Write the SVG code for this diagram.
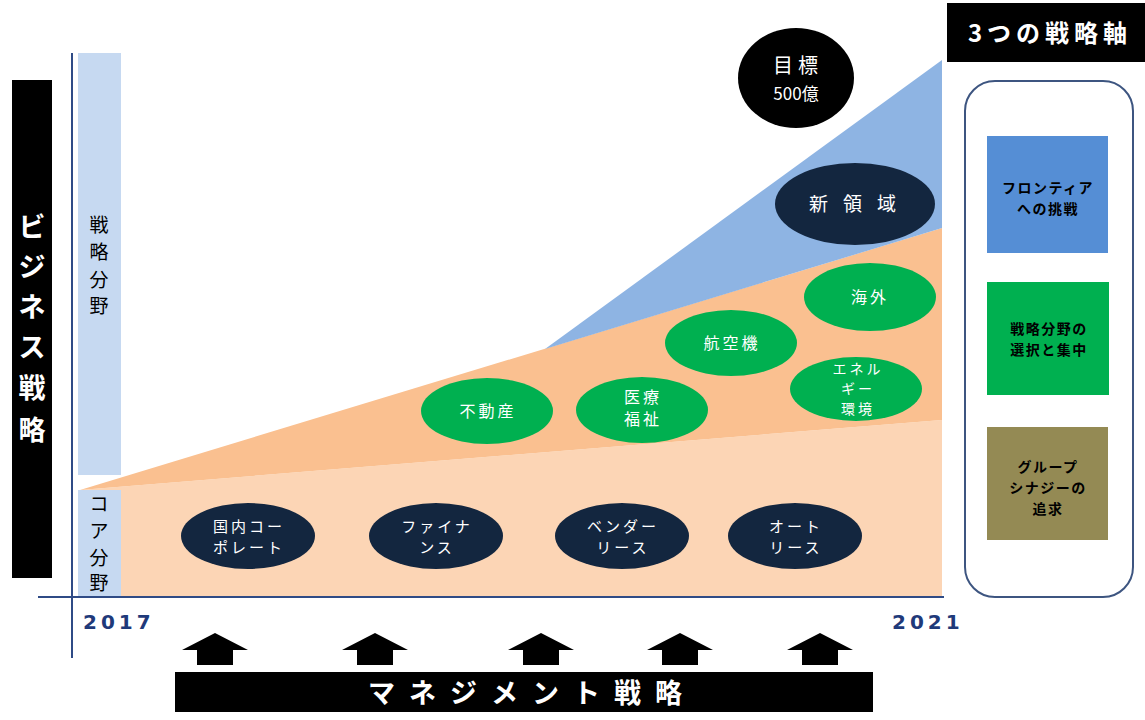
<svg xmlns="http://www.w3.org/2000/svg" width="1145" height="720" viewBox="0 0 1145 720">
<style>
text{font-family:"Noto Sans CJK JP","Noto Sans",sans-serif}
.wb{fill:#fff;font-weight:bold}
.el{fill:#fff;font-size:15px;text-anchor:middle;letter-spacing:3px}
.eg{fill:#fff;font-size:16px;text-anchor:middle;letter-spacing:3px}
.navy{fill:#13263f}
.green{fill:#00b050}
.bx{fill:#000;font-size:14px;text-anchor:middle;font-weight:bold;letter-spacing:1.5px}
.lbl{fill:#000;font-size:19px;text-anchor:middle}
.yr{fill:#1f3a7a;font-family:"DejaVu Sans",sans-serif;font-weight:bold;font-size:20px;letter-spacing:4px}
</style>
<defs>
<path id="arw" d="M0,0 L33,17 L18,17 L18,32 L-18,32 L-18,17 L-33,17 Z" fill="#000"/>
</defs>
<rect width="1145" height="720" fill="#fff"/>
<!-- areas -->
<g id="areas">
<rect x="78" y="53" width="43" height="422" fill="#c6d9f1"/>
<rect x="78" y="490" width="43" height="106" fill="#c6d9f1"/>
<polygon points="80,490 942,420 942,597 121,597 121,490" fill="#fcd5b5"/>
<polygon points="80,490 942,228 942,420" fill="#fac090"/>
<polygon points="545,349 942,60 942,228" fill="#8eb4e3"/>
</g>
<g id="axes" stroke="#2f4b86" stroke-width="2">
<line x1="72" y1="53" x2="72" y2="658"/>
<line x1="38" y1="597" x2="944" y2="597"/>
</g>
<!-- left bar -->
<g id="biz">
<rect x="12" y="80" width="40" height="498" fill="#000"/>
<text class="wb" font-size="27" text-anchor="middle" x="32" y="237">ビ</text>
<text class="wb" font-size="27" text-anchor="middle" x="32" y="277">ジ</text>
<text class="wb" font-size="27" text-anchor="middle" x="32" y="317">ネ</text>
<text class="wb" font-size="27" text-anchor="middle" x="32" y="357">ス</text>
<text class="wb" font-size="27" text-anchor="middle" x="32" y="398">戦</text>
<text class="wb" font-size="27" text-anchor="middle" x="32" y="440">略</text>
</g>
<g id="senryaku">
<text class="lbl" x="99" y="232">戦</text>
<text class="lbl" x="99" y="259">略</text>
<text class="lbl" x="99" y="287">分</text>
<text class="lbl" x="99" y="313">野</text>
</g>
<g id="core">
<text class="lbl" x="99" y="511">コ</text>
<text class="lbl" x="99" y="538">ア</text>
<text class="lbl" x="99" y="565">分</text>
<text class="lbl" x="99" y="590">野</text>
</g>
<text class="yr" x="83" y="629">2017</text>
<text class="yr" x="892" y="629">2021</text>
<!-- ellipses -->
<g id="goal"><ellipse cx="796" cy="78" rx="58" ry="50" fill="#000"/><text class="el" style="font-size:20px;letter-spacing:5px" x="798" y="73">目標</text><text class="el" style="font-size:17px;letter-spacing:0" x="796" y="100">500億</text></g>
<g id="shinryoiki"><ellipse class="navy" cx="855" cy="204" rx="80" ry="41"/><text class="el" style="font-size:19px;letter-spacing:15px" x="860" y="211">新領域</text></g>
<g id="kaigai"><ellipse class="green" cx="870" cy="297" rx="66" ry="34"/><text class="eg" x="870" y="303">海外</text></g>
<g id="kokuki"><ellipse class="green" cx="731" cy="343" rx="66" ry="33"/><text class="eg" x="732" y="349">航空機</text></g>
<g id="energy"><ellipse class="green" cx="856" cy="389" rx="66" ry="32"/><text class="eg" style="font-size:14px" x="858" y="374">エネル</text><text class="eg" style="font-size:14px" x="858" y="394">ギー</text><text class="eg" style="font-size:14px" x="858" y="414">環境</text></g>
<g id="fudosan"><ellipse class="green" cx="487" cy="411" rx="66" ry="33"/><text class="eg" x="488" y="417">不動産</text></g>
<g id="iryo"><ellipse class="green" cx="642" cy="410" rx="66" ry="33"/><text class="eg" x="643" y="403">医療</text><text class="eg" x="643" y="425">福祉</text></g>
<g id="kokunai"><ellipse class="navy" cx="248" cy="536" rx="67" ry="33"/><text class="el" x="249" y="532">国内コー</text><text class="el" x="249" y="553">ポレート</text></g>
<g id="finance"><ellipse class="navy" cx="436" cy="536" rx="67" ry="33"/><text class="el" x="437" y="532">ファイナ</text><text class="el" x="437" y="553">ンス</text></g>
<g id="vendor"><ellipse class="navy" cx="622" cy="536" rx="67" ry="33"/><text class="el" x="623" y="532">ベンダー</text><text class="el" x="623" y="553">リース</text></g>
<g id="auto"><ellipse class="navy" cx="795" cy="536" rx="67" ry="33"/><text class="el" x="796" y="532">オート</text><text class="el" x="796" y="553">リース</text></g>
<!-- arrows -->
<g id="connectors">
<use href="#arw" x="215" y="633"/>
<use href="#arw" x="375" y="633"/>
<use href="#arw" x="541" y="633"/>
<use href="#arw" x="680" y="633"/>
<use href="#arw" x="820" y="633"/>
</g>
<g id="management">
<rect x="175" y="672" width="698" height="40" fill="#000"/>
<text class="wb" font-size="27" x="532" y="703" text-anchor="middle" letter-spacing="14">マネジメント戦略</text>
</g>
<!-- right panel -->
<g id="axis3">
<rect x="947" y="3" width="198" height="59" fill="#000"/>
<text class="wb" font-size="24" x="1050" y="42" text-anchor="middle" letter-spacing="5">3つの戦略軸</text>
</g>
<rect x="965" y="81" width="168" height="516" rx="30" fill="#fff" stroke="#3d5580" stroke-width="2"/>
<g id="frontier"><rect x="987" y="136" width="121" height="117" fill="#558ed5"/><text class="bx" x="1048" y="193">フロンティア</text><text class="bx" x="1048" y="214">への挑戦</text></g>
<g id="sentaku"><rect x="987" y="282" width="122" height="113" fill="#00b050"/><text class="bx" x="1049" y="334">戦略分野の</text><text class="bx" x="1049" y="355">選択と集中</text></g>
<g id="synergy"><rect x="987" y="427" width="121" height="113" fill="#948a54"/><text class="bx" x="1048" y="472">グループ</text><text class="bx" x="1048" y="493">シナジーの</text><text class="bx" x="1048" y="514">追求</text></g>
</svg>
